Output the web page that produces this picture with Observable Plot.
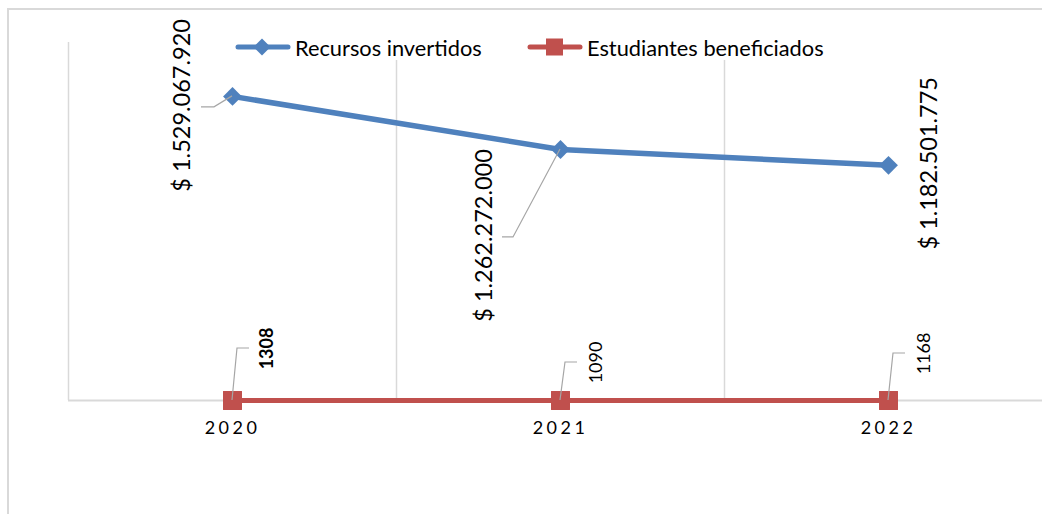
<!DOCTYPE html>
<html><head><meta charset="utf-8">
<script src="https://cdn.jsdelivr.net/npm/d3@7"></script>
<script src="https://cdn.jsdelivr.net/npm/@observablehq/plot@0.6"></script>
<style>
body{margin:0;background:#fff;font-family:Lato,"Open Sans",sans-serif;}
#wrap{position:relative;width:1042px;height:514px;overflow:hidden;background:#fff;}
#chart{position:absolute;left:0;top:0;}
#border{position:absolute;left:7px;top:8px;width:1100px;height:600px;border-left:2px solid #d9d9d9;border-top:2px solid #d9d9d9;pointer-events:none;}
.chart g[aria-label^="x-axis"] text{letter-spacing:3.5px;}
.leg{position:absolute;display:flex;align-items:center;height:26px;background:#fff;font-size:21.8px;color:#000;white-space:nowrap;}
.leg svg{display:block;margin-right:4px;}
</style></head><body>
<div id="wrap"><div id="chart"></div><div id="border"></div></div>
<script>
// ---- data ----
const years = [2020, 2021, 2022];
const recursos = [1529067920, 1262272000, 1182501775];
const estudiantes = [1308, 1090, 1168];
const seriesNames = ["Recursos invertidos", "Estudiantes beneficiados"];
const seriesColors = ["#4F81BD", "#C0504D"];

// ---- layout constants ----
const W = 1042, H = 514;
const xRange = [68, 1052];
const yMax = 1.8e9;
// label offsets (screen px) relative to each marker
const recLabelOff = [[-50, 9], [-76, 86], [41, -2]];
const estLabelOff = [[35, -52], [35.5, -38], [35.5, -47]];
const recLeader = [[[-18, 11], [-31, 11]], [[-47, 88], [-58, 88]], null];
const estLeader = [[[5, -52], [17, -52]], [[5, -38], [17, -38]], [[5, -47], [17, -47]]];

const loc = d3.formatLocale({decimal: ",", thousands: ".", grouping: [3], currency: ["$", ""]});
const fmtMoney = v => "$ " + loc.format(",")(v);

const rows = years.map((y, i) => ({year: y, rec: recursos[i], est: estudiantes[i], i}));
const bounds = [years[0] - 0.5, ...years.map(y => y + 0.5)];

const marks = [
  Plot.ruleX(bounds, {stroke: "#d9d9d9", strokeWidth: 1.5}),
  Plot.ruleY([0], {stroke: "#d9d9d9", strokeWidth: 2}),
  Plot.line(rows, {x: "year", y: "est", stroke: seriesColors[1], strokeWidth: 5}),
  Plot.line(rows, {x: "year", y: "rec", stroke: seriesColors[0], strokeWidth: 5.5, strokeLinecap: "round", strokeLinejoin: "round"}),
  Plot.dot(rows, {x: "year", y: "est", symbol: "square", r: 10.7, fill: seriesColors[1], stroke: "none"}),
  Plot.dot(rows, {x: "year", y: "rec", symbol: "diamond2", r: 8.5, fill: seriesColors[0], stroke: "none"}),
  ...rows.map((d, i) => Plot.text([d], {
    x: "year", y: "rec", text: dd => fmtMoney(dd.rec), rotate: -90,
    dx: recLabelOff[i][0], dy: recLabelOff[i][1], fontSize: 23.5, fill: "#000"
  })),
  ...rows.map((d, i) => Plot.text([d], {
    x: "year", y: "est", text: dd => String(dd.est), rotate: -90,
    dx: estLabelOff[i][0], dy: estLabelOff[i][1], fontSize: 18, fill: "#000",
    fontWeight: i === 0 ? "bold" : "normal"
  }))
];

const chart = Plot.plot({
  width: W, height: H,
  marginTop: 42, marginBottom: 114, marginLeft: 68, marginRight: 0,
  className: "chart",
  style: {background: "transparent", fontFamily: "Lato, 'Open Sans', sans-serif", fontSize: "18px", overflow: "visible"},
  x: {type: "linear", domain: [bounds[0], bounds[bounds.length - 1]], range: xRange,
      ticks: years, tickFormat: d => String(d), tickSize: 0, tickPadding: 21, label: null, line: false},
  y: {domain: [0, yMax], axis: null},
  marks
});
document.getElementById("chart").appendChild(chart);

// leader lines for data labels, positioned through the plot's scales
const sx = chart.scale("x"), sy = chart.scale("y");
const px = sx.apply ? v => sx.apply(v) : d3.scaleLinear(sx.domain, sx.range);
const py = sy.apply ? v => sy.apply(v) : d3.scaleLinear(sy.domain, sy.range);
const lg = d3.select(chart).append("g").attr("fill", "none").attr("stroke", "#a6a6a6").attr("stroke-width", 1.2);
function leaders(vals, defs) {
  rows.forEach((d, i) => {
    const L = defs[i]; if (!L) return;
    const x0 = px(d.year), y0 = py(vals[i]);
    lg.append("path").attr("d", `M${x0},${y0}L${x0 + L[0][0]},${y0 + L[0][1]}L${x0 + L[1][0]},${y0 + L[1][1]}`);
  });
}
leaders(recursos, recLeader);
leaders(estudiantes, estLeader);

// legend (overlaid at top of the chart area, as in the original)
const wrap = document.getElementById("wrap");
const legPos = [235, 527];
seriesNames.forEach((name, k) => {
  const item = document.createElement("div");
  item.className = "leg";
  item.style.left = legPos[k] + "px";
  item.style.top = "34px";
  const sym = k === 0
    ? `<path d="M27,1.5L35.5,10L27,18.5L18.5,10Z" fill="${seriesColors[0]}"/>`
    : `<rect x="19" y="1.5" width="17" height="17" fill="${seriesColors[1]}"/>`;
  item.innerHTML = `<svg width="56" height="20"><line x1="3" x2="53" y1="10" y2="10" stroke="${seriesColors[k]}" stroke-width="5" stroke-linecap="round"/>${sym}</svg><span></span>`;
  item.querySelector("span").textContent = name;
  wrap.appendChild(item);
});
</script>
</body></html>
